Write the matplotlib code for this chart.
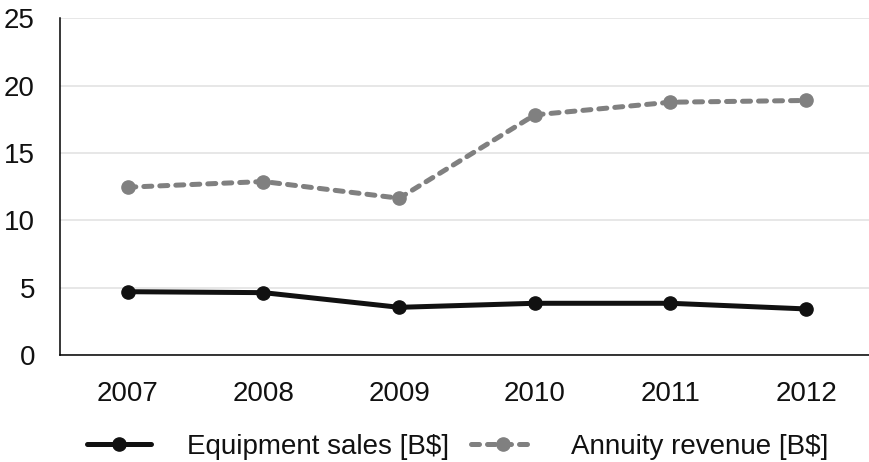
import matplotlib
matplotlib.use("Agg")
import matplotlib.pyplot as plt

# data
years = ["2007", "2008", "2009", "2010", "2011", "2012"]
equipment = [4.70, 4.63, 3.54, 3.84, 3.84, 3.42]
annuity = [12.46, 12.88, 11.64, 17.83, 18.77, 18.90]
y_ticks = [0, 5, 10, 15, 20, 25]

plt.rcParams['font.family'] = ['Liberation Sans', 'DejaVu Sans']

fig = plt.figure(figsize=(8.7, 4.62), dpi=100)
ax = fig.add_axes([60 / 870, 107 / 462, 814 / 870, 336.7 / 462])

x = range(len(years))

ax.plot(x, equipment, color="#111111", lw=3.6, marker="o", markersize=9.5,
        solid_capstyle="round", label="Equipment sales [B$]", zorder=3)
gray, = ax.plot(x, annuity, color="#808080", lw=3.6, marker="o", markersize=9.5,
                dash_capstyle="round", label="Annuity revenue [B$]", zorder=3)
gray.set_dashes((1.6, 1.6))

ax.set_xlim(-0.5, len(years) - 0.5)
ax.set_ylim(0, 25)
ax.set_xticks(list(x))
ax.set_xticklabels(years)
ax.set_yticks(y_ticks)

ax.yaxis.grid(True, color="#e3e3e3", lw=1.2)
ax.set_axisbelow(True)

for side in ["top", "right"]:
    ax.spines[side].set_visible(False)
ax.spines["left"].set_color("black")
ax.spines["bottom"].set_color("black")
ax.spines["left"].set_linewidth(1.1)
ax.spines["bottom"].set_linewidth(1.1)

ax.tick_params(axis="both", length=0, labelsize=20, colors="#111111")
ax.tick_params(axis="y", pad=18)
ax.tick_params(axis="x", pad=19)

fig.legend(loc="center", bbox_to_anchor=(457.5 / 870, 15 / 462), ncol=2,
           frameon=False, fontsize=20, handlelength=2.3, handletextpad=1.3,
           columnspacing=0.8, numpoints=1, borderpad=0, labelcolor="#111111")

fig.savefig("out.png", dpi=100)
